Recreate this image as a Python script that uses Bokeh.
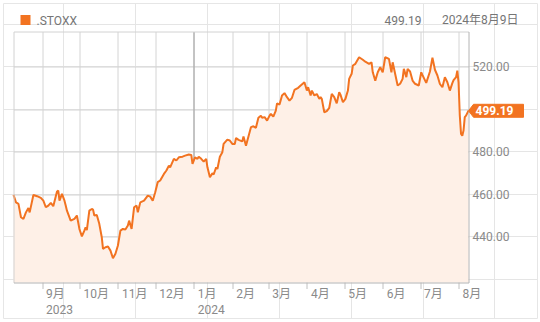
import pandas as pd
from bokeh.plotting import figure
from bokeh.models import Range1d
from bokeh.core.properties import value
from bokeh.embed import file_html
from bokeh.resources import INLINE

# ---------------- data ----------------
dates = [
    "2023-08-09", "2023-08-11", "2023-08-13", "2023-08-15", "2023-08-17", "2023-08-19", "2023-08-21",
    "2023-08-22", "2023-08-25", "2023-08-28", "2023-08-31", "2023-09-02", "2023-09-04", "2023-09-06",
    "2023-09-08", "2023-09-10", "2023-09-13", "2023-09-14", "2023-09-15", "2023-09-17", "2023-09-19",
    "2023-09-20", "2023-09-21", "2023-09-24", "2023-09-27", "2023-09-29", "2023-10-01", "2023-10-03",
    "2023-10-05", "2023-10-06", "2023-10-07", "2023-10-09", "2023-10-11", "2023-10-12", "2023-10-13",
    "2023-10-15", "2023-10-17", "2023-10-19", "2023-10-20", "2023-10-22", "2023-10-24", "2023-10-26",
    "2023-10-28", "2023-10-30", "2023-11-01", "2023-11-03", "2023-11-05", "2023-11-07", "2023-11-09",
    "2023-11-10", "2023-11-12", "2023-11-14", "2023-11-16", "2023-11-17", "2023-11-19", "2023-11-22",
    "2023-11-25", "2023-11-27", "2023-11-29", "2023-12-01", "2023-12-03", "2023-12-05", "2023-12-08",
    "2023-12-10", "2023-12-12", "2023-12-13", "2023-12-16", "2023-12-18", "2023-12-20", "2023-12-23",
    "2023-12-25", "2023-12-28", "2023-12-30", "2023-12-31", "2024-01-02", "2024-01-04", "2024-01-05",
    "2024-01-07", "2024-01-09", "2024-01-11", "2024-01-12", "2024-01-14", "2024-01-16", "2024-01-17",
    "2024-01-19", "2024-01-20", "2024-01-22", "2024-01-24", "2024-01-25", "2024-01-28", "2024-01-30",
    "2024-02-01", "2024-02-03", "2024-02-04", "2024-02-06", "2024-02-09", "2024-02-10", "2024-02-12",
    "2024-02-14", "2024-02-16", "2024-02-18", "2024-02-20", "2024-02-22", "2024-02-24", "2024-02-25",
    "2024-02-27", "2024-02-29", "2024-03-02", "2024-03-03", "2024-03-05", "2024-03-07", "2024-03-08",
    "2024-03-10", "2024-03-12", "2024-03-14", "2024-03-16", "2024-03-18", "2024-03-20", "2024-03-22",
    "2024-03-25", "2024-03-27", "2024-03-30", "2024-04-01", "2024-04-02", "2024-04-04", "2024-04-05",
    "2024-04-07", "2024-04-09", "2024-04-11", "2024-04-12", "2024-04-13", "2024-04-15", "2024-04-17",
    "2024-04-19", "2024-04-21", "2024-04-23", "2024-04-25", "2024-04-27", "2024-04-28", "2024-04-30",
    "2024-05-02", "2024-05-04", "2024-05-05", "2024-05-07", "2024-05-08", "2024-05-10", "2024-05-13",
    "2024-05-16", "2024-05-18", "2024-05-21", "2024-05-23", "2024-05-24", "2024-05-26", "2024-05-28",
    "2024-05-30", "2024-06-01", "2024-06-03", "2024-06-06", "2024-06-08", "2024-06-09", "2024-06-13",
    "2024-06-15", "2024-06-17", "2024-06-18", "2024-06-20", "2024-06-21", "2024-06-23", "2024-06-25",
    "2024-06-27", "2024-06-30", "2024-07-02", "2024-07-03", "2024-07-06", "2024-07-09", "2024-07-11",
    "2024-07-13", "2024-07-15", "2024-07-17", "2024-07-19", "2024-07-21", "2024-07-23", "2024-07-25",
    "2024-07-27", "2024-07-28", "2024-07-30", "2024-07-31", "2024-08-01", "2024-08-02", "2024-08-03",
    "2024-08-04", "2024-08-05", "2024-08-06", "2024-08-07", "2024-08-09",
]
closes = [
    459.6, 456.1, 455.4, 449.1, 448.3, 451.4, 453.5,
    451.4, 459.6, 459.0, 458.2, 456.9, 453.8, 454.6,
    455.9, 454.3, 461.2, 461.6, 456.9, 460.1, 456.9,
    454.6, 452.2, 447.5, 448.3, 449.9, 443.6, 440.1,
    442.8, 444.4, 443.1, 452.2, 453.0, 452.7, 449.9,
    450.2, 446.0, 439.7, 434.2, 435.0, 435.3, 433.4,
    429.8, 431.9, 435.8, 442.8, 443.6, 443.3, 445.2,
    447.5, 443.6, 453.8, 454.6, 451.4, 456.1, 456.9,
    459.3, 458.8, 456.9, 460.9, 465.6, 466.4, 469.5,
    471.1, 473.4, 472.6, 476.6, 475.8, 477.3, 477.6,
    478.1, 478.6, 478.4, 474.2, 477.3, 476.6, 477.6,
    476.6, 475.3, 476.6, 472.6, 467.9, 469.8, 469.2,
    472.6, 471.8, 477.6, 479.7, 483.6, 485.6, 485.2,
    483.6, 483.6, 486.4, 485.5, 484.8, 487.1, 482.8,
    487.1, 491.5, 491.9, 491.2, 495.9, 496.9, 495.9,
    496.2, 494.6, 496.9, 497.7, 496.5, 499.3, 502.7,
    502.1, 506.4, 507.5, 505.6, 504.0, 505.3, 509.0,
    510.0, 511.1, 512.6, 508.7, 510.3, 506.4, 508.7,
    506.4, 507.1, 504.8, 505.6, 504.8, 498.5, 499.0,
    500.6, 507.1, 505.6, 502.7, 507.9, 506.8, 503.2,
    504.8, 508.7, 514.2, 516.6, 520.5, 521.3, 524.4,
    523.2, 522.3, 521.3, 522.0, 517.3, 513.4, 517.3,
    519.7, 517.3, 524.4, 523.6, 517.3, 522.0, 511.1,
    511.9, 514.2, 518.9, 515.0, 518.9, 517.7, 513.4,
    511.9, 511.1, 517.3, 516.0, 512.3, 517.7, 524.2,
    518.5, 515.8, 511.8, 510.3, 515.0, 512.6, 508.7,
    512.2, 513.6, 515.0, 518.1, 512.6, 497.0, 488.3,
    487.5, 489.9, 496.2, 496.9, 499.19,
]

month_starts = ["2023-09-01", "2023-10-01", "2023-11-01", "2023-12-01", "2024-01-01", "2024-02-01",
                "2024-03-01", "2024-04-01", "2024-05-01", "2024-06-01", "2024-07-01", "2024-08-01"]
month_labels = ["9月", "10月", "11月", "12月", "1月", "2月", "3月", "4月", "5月", "6月", "7月", "8月"]
year_starts = ["2023-09-01", "2024-01-01"]
year_labels = ["2023", "2024"]
y_ticks = [440, 460, 480, 500, 520]

symbol = ".STOXX"
last_value = 499.19
last_date_label = "2024年8月9日"
x_start, x_end = "2023-08-09", "2024-08-09"
y_lo, y_hi = 418.4, 536.5

# ---------------- layout (canvas pixels) ----------------
W, H = 540, 322
FR_L, FR_T, FR_R, FR_B = 3, 3, 537, 318        # outer card border
BX_L, BX_T, BX_R, BX_B = 13, 31, 468, 282      # plot box

# ---------------- style ----------------
ORANGE = "#f27321"
FILL = "#fef0e7"
GRID = "#d4d4d4"
TXT = "#8a8a8a"
HDR = "#757575"
FONT = "Roboto, 'Noto Sans CJK JP', sans-serif"

def ms(s):
    return pd.Timestamp(s).value / 1e6

x0, x1 = ms(x_start), ms(x_end)
MPP = (x1 - x0) / (BX_R - BX_L)          # ms per pixel
VPP = (y_hi - y_lo) / (BX_B - BX_T)      # value per pixel
X = lambda px: x0 + (px - BX_L) * MPP
Y = lambda py: y_lo + (BX_B - py) * VPP
# snap hairlines onto pixel centres so that they render crisp
sx = lambda m: X(round(BX_L + (m - x0) / MPP) + 0.5)
sy = lambda t: Y(round(BX_B - (t - y_lo) / VPP) + 0.5)

xs = [ms(d) for d in dates]
month_ms = [ms(d) for d in month_starts]
year_ms = [ms(d) for d in year_starts]
gx = [sx(m) for m in month_ms]
gy = [sy(t) for t in y_ticks]
bl, br, bb, bt = X(BX_L + 0.5), X(BX_R + 0.5), Y(BX_B + 0.5), Y(BX_T + 0.5)
tick_bottom = Y(BX_B + 6.5)

p = figure(width=W, height=H, x_axis_location=None, y_axis_location=None,
           x_range=Range1d(X(FR_L), X(FR_R)), y_range=Range1d(Y(FR_B), Y(FR_T)),
           output_backend="svg", toolbar_location=None,
           min_border_left=FR_L, min_border_right=W - FR_R,
           min_border_top=FR_T, min_border_bottom=H - FR_B)
p.background_fill_color = "white"
p.border_fill_color = "white"
p.outline_line_color = "#e6e6e6"

# grid lines inside the plot box (drawn first, the area covers them)
p.multi_line(xs=[[g, g] for g in gx], ys=[[bb, bt] for _ in gx], line_color=GRID, line_width=1)
p.multi_line(xs=[[bl, br] for _ in gy], ys=[[g, g] for g in gy], line_color=GRID, line_width=1)
# year boundary line
p.line(x=[sx(year_ms[1])] * 2, y=[bb, bt], line_color="#9e9e9e", line_width=1)
# month tick marks below the box
p.multi_line(xs=[[g, g] for g in gx], ys=[[tick_bottom, bb] for _ in gx], line_color="#c0c0c0", line_width=1)

# area + line
p.varea(x=xs, y1=y_lo, y2=closes, fill_color=FILL)
p.line(xs, closes, line_color=ORANGE, line_width=2)

# plot box border
p.line(x=[bl, bl, br], y=[bb, bt, bt], line_color="#d2d2d2", line_width=1)
p.line(x=[bl, br, br], y=[bb, bb, bt], line_color="#b4b4b4", line_width=1)

# y tick labels (right)
lab_ticks = [t for t in y_ticks if abs(t - last_value) > 8]
p.text(x=[X(BX_R + 4)] * len(lab_ticks), y=lab_ticks, text=[f"{t:.2f}" for t in lab_ticks],
       text_font=value(FONT), text_font_size=value("12px"), text_color=TXT,
       text_align="left", text_baseline="middle")

# month / year labels (left aligned after each tick)
p.text(x=[m + 4 * MPP for m in month_ms], y=[Y(293.5)] * len(month_ms), text=month_labels,
       text_font=value(FONT), text_font_size=value("12px"), text_color=TXT,
       text_align="left", text_baseline="middle")
p.text(x=[m + 4 * MPP for m in year_ms], y=[Y(309)] * len(year_ms), text=year_labels,
       text_font=value(FONT), text_font_size=value("12px"), text_color=TXT,
       text_align="left", text_baseline="middle")

# header
p.rect(x=[X(25)], y=[Y(19.5)], width=10, height=10, width_units="screen", height_units="screen",
       fill_color=ORANGE, line_color=None)
p.text(x=[X(36)], y=[Y(20)], text=[symbol], text_font=value(FONT), text_font_size=value("12px"),
       text_color=HDR, text_align="left", text_baseline="middle")
p.text(x=[X(384)], y=[Y(20)], text=[f"{last_value:.2f}"], text_font=value(FONT),
       text_font_size=value("12px"), text_color=HDR, text_align="left", text_baseline="middle")
p.text(x=[X(518)], y=[Y(19)], text=[last_date_label], text_font=value(FONT),
       text_font_size=value("12px"), text_color=HDR, text_align="right", text_baseline="middle")

# price tag at the right edge
v = last_value
tag_x = [x1, x1 + 5 * MPP, x1 + 55 * MPP, x1 + 55 * MPP, x1 + 5 * MPP]
tag_y = [v, v + 6.5 * VPP, v + 6.5 * VPP, v - 6.5 * VPP, v - 6.5 * VPP]
p.patch(tag_x, tag_y, fill_color=ORANGE, line_color=ORANGE)
p.text(x=[x1 + 7 * MPP], y=[v], text=[f"{v:.2f}"], text_font=value(FONT),
       text_font_size=value("12px"), text_font_style="bold", text_color="white",
       text_align="left", text_baseline="middle")

open("out.html", "w").write(file_html(p, INLINE))
